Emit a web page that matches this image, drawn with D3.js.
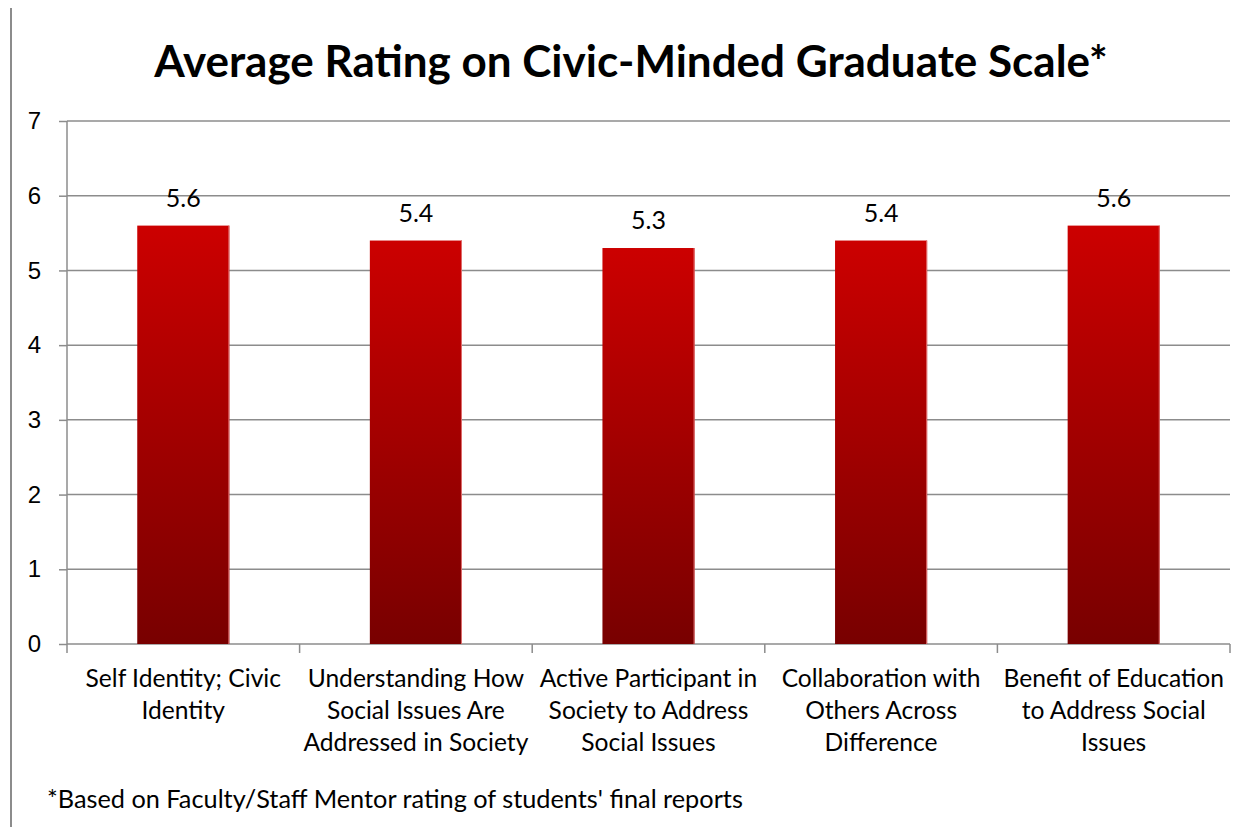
<!DOCTYPE html>
<html>
<head>
<meta charset="utf-8">
<script src="https://cdn.jsdelivr.net/npm/d3@7"></script>
<style>
  html, body { margin: 0; background: #fff; overflow: hidden; }
  svg { display: block; font-family: Lato, "Open Sans", sans-serif; }
  .grid line { stroke: #8c8c8c; stroke-width: 1.5; }
  .axis path, .axis line { stroke: #8c8c8c; stroke-width: 1.5; }
  .axis text { font-size: 24px; fill: #000; }
</style>
</head>
<body>
<svg id="chart" width="1257" height="827"></svg>
<script>
const categories = [
  ["Self Identity; Civic", "Identity"],
  ["Understanding How", "Social Issues Are", "Addressed in Society"],
  ["Active Participant in", "Society to Address", "Social Issues"],
  ["Collaboration with", "Others Across", "Difference"],
  ["Benefit of Education", "to Address Social", "Issues"]
];
const ratings = [5.6, 5.4, 5.3, 5.4, 5.6];
const yTicks = [0, 1, 2, 3, 4, 5, 6, 7];

const svg = d3.select("#chart");
const width = +svg.attr("width");

const margin = { top: 121, right: 27, bottom: 183, left: 67 };
const innerWidth = width - margin.left - margin.right;
const innerHeight = +svg.attr("height") - margin.top - margin.bottom;

const keys = categories.map(c => c.join(" "));

const x = d3.scaleBand()
  .domain(keys)
  .range([0, innerWidth])
  .paddingInner(0.604)
  .paddingOuter(0.302);

const y = d3.scaleLinear()
  .domain([0, 7])
  .range([innerHeight, 0]);

// outer frame line on the left
svg.append("line")
  .attr("x1", 11).attr("x2", 11)
  .attr("y1", 8).attr("y2", 827)
  .attr("stroke", "#8c8c8c")
  .attr("stroke-width", 2);

svg.append("text")
  .attr("x", 631)
  .attr("y", 77)
  .attr("text-anchor", "middle")
  .style("font-size", "44px")
  .style("font-weight", "bold")
  .text("Average Rating on Civic-Minded Graduate Scale*");

const defs = svg.append("defs");
const grad = defs.append("linearGradient")
  .attr("id", "barGrad")
  .attr("x1", 0).attr("y1", 0).attr("x2", 0).attr("y2", 1);
grad.append("stop").attr("offset", "0%").attr("stop-color", "#cc0000");
grad.append("stop").attr("offset", "100%").attr("stop-color", "#780000");

const g = svg.append("g")
  .attr("transform", `translate(${margin.left}, ${margin.top})`);

g.append("g")
  .attr("class", "grid")
  .selectAll("line")
  .data(yTicks.slice(1))
  .join("line")
  .attr("x1", 0)
  .attr("x2", innerWidth)
  .attr("y1", d => y(d))
  .attr("y2", d => y(d));

const yAxis = g.append("g")
  .attr("class", "axis")
  .call(d3.axisLeft(y).tickValues(yTicks).tickFormat(d3.format("d")).tickSize(8).tickPadding(18));
yAxis.select(".domain").attr("d", `M0,${innerHeight}V0`);

// x axis with tick marks at category boundaries
const xAxis = g.append("g")
  .attr("class", "axis")
  .attr("transform", `translate(0, ${innerHeight})`);
xAxis.append("line")
  .attr("x1", 0).attr("x2", innerWidth)
  .attr("y1", 0).attr("y2", 0);
const step = x.step();
xAxis.selectAll(".bound")
  .data(d3.range(keys.length + 1))
  .join("line")
  .attr("class", "bound")
  .attr("x1", i => i * step)
  .attr("x2", i => i * step)
  .attr("y1", 0)
  .attr("y2", 9);

g.selectAll(".bar")
  .data(ratings)
  .join("rect")
  .attr("class", "bar")
  .attr("x", (d, i) => x(keys[i]))
  .attr("y", d => y(d))
  .attr("width", x.bandwidth())
  .attr("height", d => y(0) - y(d))
  .attr("fill", "url(#barGrad)");

g.selectAll(".edge")
  .data(ratings)
  .join("line")
  .attr("class", "edge")
  .attr("x1", (d, i) => x(keys[i]) + x.bandwidth() - 0.5)
  .attr("x2", (d, i) => x(keys[i]) + x.bandwidth() - 0.5)
  .attr("y1", d => y(d))
  .attr("y2", y(0))
  .attr("stroke", "#e07070")
  .attr("stroke-width", 1);

g.selectAll(".value")
  .data(ratings)
  .join("text")
  .attr("class", "value")
  .attr("x", (d, i) => x(keys[i]) + x.bandwidth() / 2)
  .attr("y", d => y(d) - 19)
  .attr("text-anchor", "middle")
  .style("font-size", "25px")
  .text(d => d.toFixed(1));

// category labels, one text element per line
const labelLines = categories.flatMap((lines, i) =>
  lines.map((line, j) => ({ key: keys[i], line, j })));

g.selectAll(".cat")
  .data(labelLines)
  .join("text")
  .attr("class", "cat")
  .attr("text-anchor", "middle")
  .attr("x", d => x(d.key) + x.bandwidth() / 2)
  .attr("y", d => innerHeight + 43 + d.j * 32)
  .style("font-size", "24.6px")
  .text(d => d.line);

svg.append("text")
  .attr("x", 47)
  .attr("y", 808)
  .style("font-size", "25.3px")
  .text("*Based on Faculty/Staff Mentor rating of students' final reports");
</script>
</body>
</html>
